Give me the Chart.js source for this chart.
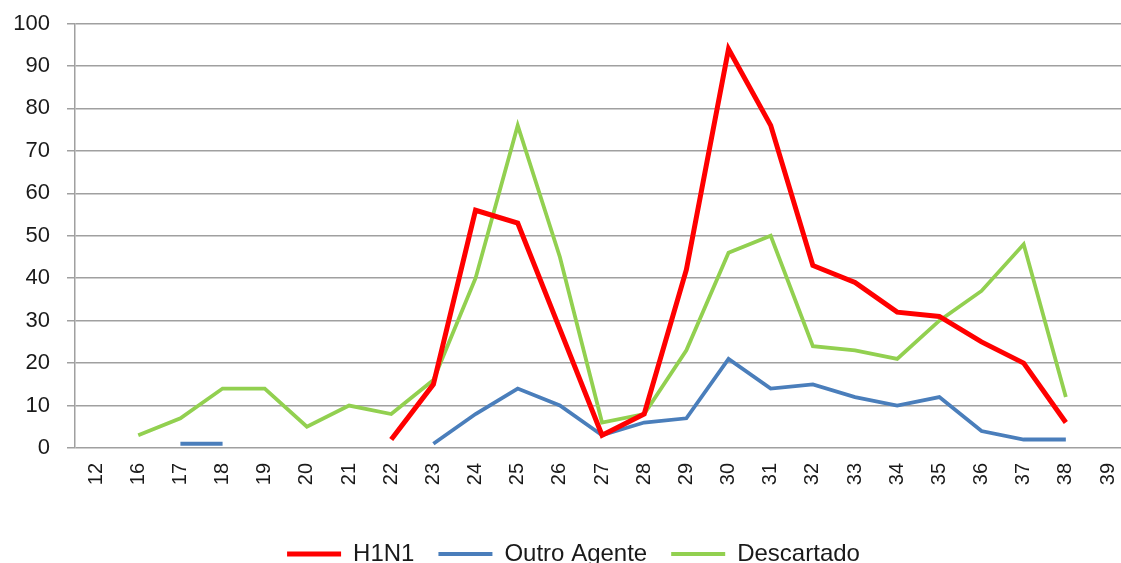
<!DOCTYPE html>
<html>
<head>
<meta charset="utf-8">
<script src="https://cdn.jsdelivr.net/npm/chart.js@4/dist/chart.umd.min.js"></script>
<style>
  html, body { margin: 0; padding: 0; background: #fff; overflow: hidden; }
  #wrap { position: relative; width: 1147px; height: 576px; }
</style>
</head>
<body>
<div id="wrap"><canvas id="grafico"></canvas></div>
<script>
// semanas epidemiologicas
const semanas = ['12', '16', '17', '18', '19', '20', '21', '22', '23', '24', '25', '26', '27',
    '28', '29', '30', '31', '32', '33', '34', '35', '36', '37', '38', '39'];

const h1n1 = [null, null, null, null, null, null, null, 2, 15, 56, 53, 28, 3,
    8, 42, 94, 76, 43, 39, 32, 31, 25, 20, 6, null];

const outroAgente = [null, null, 1, 1, null, null, null, null, 1, 8, 14, 10, 3,
    6, 7, 21, 14, 15, 12, 10, 12, 4, 2, 2, null];

const descartado = [null, 3, 7, 14, 14, 5, 10, 8, 16, 40, 76, 45, 6,
    8, 23, 46, 50, 24, 23, 21, 30, 37, 48, 12, null];

const yTicks = [0, 10, 20, 30, 40, 50, 60, 70, 80, 90, 100];

const cinza = '#a0a0a0';
const fonte = "'Liberation Sans', Arial, sans-serif";

function serie (label, data, cor, largura) {
    return {
        label: label,
        data: data,
        borderColor: cor,
        backgroundColor: cor,
        borderWidth: largura,
        pointRadius: 0,
        pointHoverRadius: 0,
        tension: 0,
        spanGaps: false,
        borderJoinStyle: 'miter'
    };
}

const ctx = document.getElementById('grafico');
new Chart(ctx, {
    type: 'line',
    data: {
        labels: semanas,
        datasets: [
            serie('H1N1', h1n1, '#ff0000', 5),
            serie('Outro Agente', outroAgente, '#4a7ebb', 3.8),
            serie('Descartado', descartado, '#92d050', 3.8)
        ]
    },
    options: {
        responsive: true,
        maintainAspectRatio: false,
        animation: false,
        layout: { padding: { top: 23.5, left: 0, right: 0, bottom: 0 } },
        plugins: {
            tooltip: { enabled: false },
            legend: {
                position: 'bottom',
                labels: {
                    usePointStyle: true,
                    pointStyle: 'line',
                    pointStyleWidth: 54,
                    boxHeight: 5,
                    padding: 24,
                    color: '#1a1a1a',
                    font: { family: fonte, size: 24 }
                }
            }
        },
        scales: {
            x: {
                offset: true,
                grid: { display: false, drawTicks: false },
                border: { display: false },
                afterFit: (scale) => { scale.height = 70; },
                ticks: {
                    autoSkip: false,
                    minRotation: 90,
                    maxRotation: 90,
                    padding: 15,
                    color: '#1a1a1a',
                    font: { family: fonte, size: 20 }
                }
            },
            y: {
                min: 0,
                max: 100,
                afterFit: (scale) => {
                    scale.width = 75;
                    scale.paddingTop = 0;
                    scale.paddingBottom = 0;
                },
                afterBuildTicks: (scale) => { scale.ticks = yTicks.map(v => ({ value: v })); },
                grid: { color: cinza, lineWidth: 1.5, tickLength: 8 },
                border: { display: true, color: cinza, width: 1.5 },
                ticks: {
                    padding: 17,
                    color: '#1a1a1a',
                    font: { family: fonte, size: 22 }
                }
            }
        }
    }
});
</script>
</body>
</html>
